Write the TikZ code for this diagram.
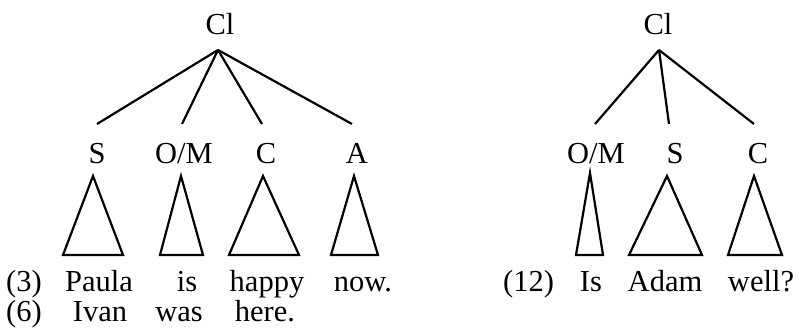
\documentclass[tikz,border=0pt]{standalone}
\usepackage{fontspec}
\setmainfont{Liberation Serif}
\begin{document}
\begin{tikzpicture}[x=1pt,y=-1pt,
  txt/.style={inner sep=0pt,anchor=base,font=\fontsize{30.5}{36}\selectfont},
  branch/.style={line width=2.2pt},
  tri/.style={line width=2.2pt,line join=miter}]
\useasboundingbox (0,0) rectangle (799,329);
% ---------- left tree ----------
\node[txt] (cl1) at (220,35) {Cl};
\coordinate (cl1t) at (218,50);
\node[txt] (s1) at (97,163) {S};
\node[txt] (om1) at (184,163) {O/M};
\node[txt] (c1) at (266,163) {C};
\node[txt] (a1) at (357,163) {A};
\coordinate (s1e) at (97,124);
\coordinate (om1e) at (182,124);
\coordinate (c1e) at (262,124);
\coordinate (a1e) at (352,124);
\draw[branch] (cl1t) -- (s1e);
\draw[branch] (cl1t) -- (om1e);
\draw[branch] (cl1t) -- (c1e);
\draw[branch] (cl1t) -- (a1e);
\draw[tri] (93,176) -- (123,255) -- (63,255) -- cycle;
\draw[tri] (181,176) -- (203,255) -- (160,255) -- cycle;
\draw[tri] (263,176) -- (299,255) -- (229,255) -- cycle;
\draw[tri] (354,176) -- (378,255) -- (331,255) -- cycle;
\node[txt,anchor=base west] (n3) at (6,291) {(3)};
\node[txt] (w1) at (99,291) {Paula};
\node[txt] (w2) at (187,291) {is};
\node[txt] (w3) at (267,291) {happy};
\node[txt] (w4) at (363,291) {now.};
\node[txt,anchor=base west] (n6) at (6,321) {(6)};
\node[txt] (v1) at (100,321) {Ivan};
\node[txt] (v2) at (179,321) {was};
\node[txt] (v3) at (265,321) {here.};
% ---------- right tree ----------
\node[txt] (cl2) at (658,35) {Cl};
\coordinate (cl2t) at (659,50);
\node[txt] (om2) at (596,163) {O/M};
\node[txt] (s2) at (675,163) {S};
\node[txt] (c2) at (758,163) {C};
\coordinate (om2e) at (595,124);
\coordinate (s2e) at (669,124);
\coordinate (c2e) at (754,124);
\draw[branch] (cl2t) -- (om2e);
\draw[branch] (cl2t) -- (s2e);
\draw[branch] (cl2t) -- (c2e);
\draw[tri] (590,173) -- (603,255) -- (576,255) -- cycle;
\draw[tri] (667,176) -- (702,255) -- (629,255) -- cycle;
\draw[tri] (754,176) -- (782,255) -- (728,255) -- cycle;
\node[txt,anchor=base west] (n12) at (503,291) {(12)};
\node[txt] (r1) at (591,291) {Is};
\node[txt] (r2) at (665,291) {Adam};
\node[txt] (r3) at (761,291) {well?};
\end{tikzpicture}
\end{document}
